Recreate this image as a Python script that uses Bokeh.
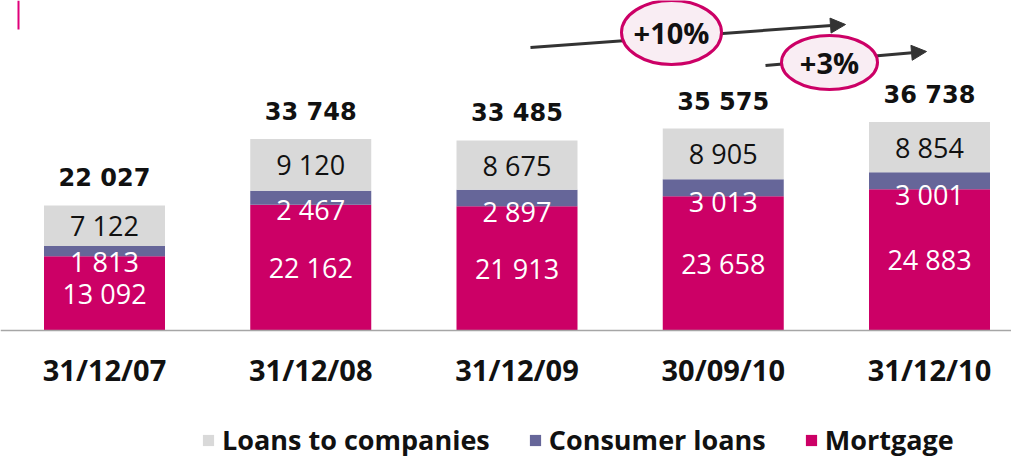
from bokeh.plotting import figure
from bokeh.models import (Range1d, FixedTicker, Legend, LegendItem, ColumnDataSource,
                          Arrow, NormalHead)
from bokeh.core.properties import value
from bokeh.embed import file_html
from bokeh.resources import INLINE

# ---- data ----
dates = ["31/12/07", "31/12/08", "31/12/09", "30/09/10", "31/12/10"]
mortgage = [13092, 22162, 21913, 23658, 24883]
consumer = [1813, 2467, 2897, 3013, 3001]
companies = [7122, 9120, 8675, 8905, 8854]
totals = [22027, 33748, 33485, 35575, 36738]
growth_labels = ["+10%", "+3%"]

C_MORT = "#CC0066"
C_CONS = "#666699"
C_COMP = "#D9D9D9"

def fmt(v):
    return f"{v:,}".replace(",", " ")

W, H = 1011, 458
CAT_PX = 206.25
x_start = -104 / CAT_PX
x_end = x_start + W / CAT_PX
ypx = 58150.0 / 330  # data units per px
y_end = 330 * ypx            # page y = 8
y_start = -(466 - 338) * ypx  # page y = 466

def sx(px):  # page px -> data x
    return x_start + (px - 8) / CAT_PX

def sy(py):  # page px -> data y
    return (338 - py) * ypx

xs = list(range(len(dates)))
src = ColumnDataSource(dict(
    x=xs, mortgage=mortgage, consumer=consumer, companies=companies,
    mort_y=[m / 2 for m in mortgage],
    cons_y=list(mortgage),
    comp_y=[m + c + k / 2 for m, c, k in zip(mortgage, consumer, companies)],
    top=[m + c + k for m, c, k in zip(mortgage, consumer, companies)],
    mort_l=[fmt(v) for v in mortgage],
    cons_l=[fmt(v) for v in consumer],
    comp_l=[fmt(v) for v in companies],
    tot_l=[fmt(v) for v in totals],
))

p = figure(width=W, height=H, output_backend="svg", toolbar_location=None,
           x_range=Range1d(x_start, x_end), y_range=Range1d(y_start, y_end),
           y_axis_location=None, min_border_left=0, min_border_right=0,
           min_border_top=0, min_border_bottom=0, outline_line_color=None)
p.grid.visible = False
p.background_fill_color = "white"
p.border_fill_color = "white"

rs = p.vbar_stack(["mortgage", "consumer", "companies"], x="x", width=121 / CAT_PX,
                  color=[C_MORT, C_CONS, C_COMP], line_color=None, source=src)

p.text(x="x", y="mort_y", text="mort_l", source=src, text_align="center",
       text_baseline="middle", text_color="white", text_font=value("Open Sans"),
       text_font_size="27px")
p.text(x="x", y="cons_y", text="cons_l", source=src, text_align="center",
       text_baseline="middle", text_color="white", text_font=value("Open Sans"),
       text_font_size="27px", y_offset=5)
p.text(x="x", y="comp_y", text="comp_l", source=src, text_align="center",
       text_baseline="middle", text_color="#111111", text_font=value("Open Sans"),
       text_font_size="27px")
p.text(x="x", y="top", text="tot_l", source=src, text_align="center",
       text_baseline="middle", text_color="#111111", text_font=value("DejaVu Sans"),
       text_font_style="bold", text_font_size="24px", y_offset=-27)

# growth arrows
for (x0, y0, x1, y1) in [(538, 55, 853, 32), (773, 73, 934, 59)]:
    a = Arrow(end=NormalHead(size=15, fill_color="#333333", line_color="#333333"),
              x_start=sx(x0), y_start=sy(y0), x_end=sx(x1), y_end=sy(y1),
              line_color="#333333", line_width=3, level="underlay")
    p.add_layout(a)

ell = ColumnDataSource(dict(x=[sx(679), sx(837)], y=[sy(40), sy(70)],
                            w=[100, 96], h=[64, 54], t=growth_labels))
p.ellipse(x="x", y="y", width="w", height="h", width_units="screen",
          height_units="screen", source=ell, fill_color="#F9EDF3",
          line_color=C_MORT, line_width=3)
p.text(x="x", y="y", text="t", source=ell, text_align="center", text_baseline="middle",
       text_color="#111111", text_font=value("Open Sans"), text_font_style="bold",
       text_font_size="29px")

# decorative pink mark
p.segment(x0=[sx(26)], y0=[y_end], x1=[sx(26)], y1=[sy(37)], line_color="#E0007A",
          line_width=2)

ax = p.xaxis[0]
ax.fixed_location = 0
ax.ticker = FixedTicker(ticks=xs)
ax.major_label_overrides = {i: d for i, d in zip(xs, dates)}
ax.major_label_text_font = "Open Sans"
ax.major_label_text_font_style = "bold"
ax.major_label_text_font_size = "29px"
ax.major_label_text_color = "#111111"
ax.axis_line_color = "#A6A6A6"
ax.axis_line_width = 1.5
ax.major_tick_line_color = None
ax.minor_tick_line_color = None
ax.major_tick_out = 0
ax.major_tick_in = 0
ax.major_label_standoff = 19

legend = Legend(items=[LegendItem(label="Loans to companies", renderers=[rs[2]]),
                       LegendItem(label="Consumer loans", renderers=[rs[1]]),
                       LegendItem(label="Mortgage", renderers=[rs[0]])],
                orientation="horizontal", location=(201, 0),
                label_text_font="Open Sans", label_text_font_style="bold",
                label_text_font_size="27px", label_text_color="#111111",
                glyph_width=14, glyph_height=14, label_standoff=7, spacing=38,
                padding=0, margin=0, border_line_color=None,
                background_fill_alpha=0)
p.add_layout(legend, "center")

open("out.html", "w").write(file_html(p, INLINE))
